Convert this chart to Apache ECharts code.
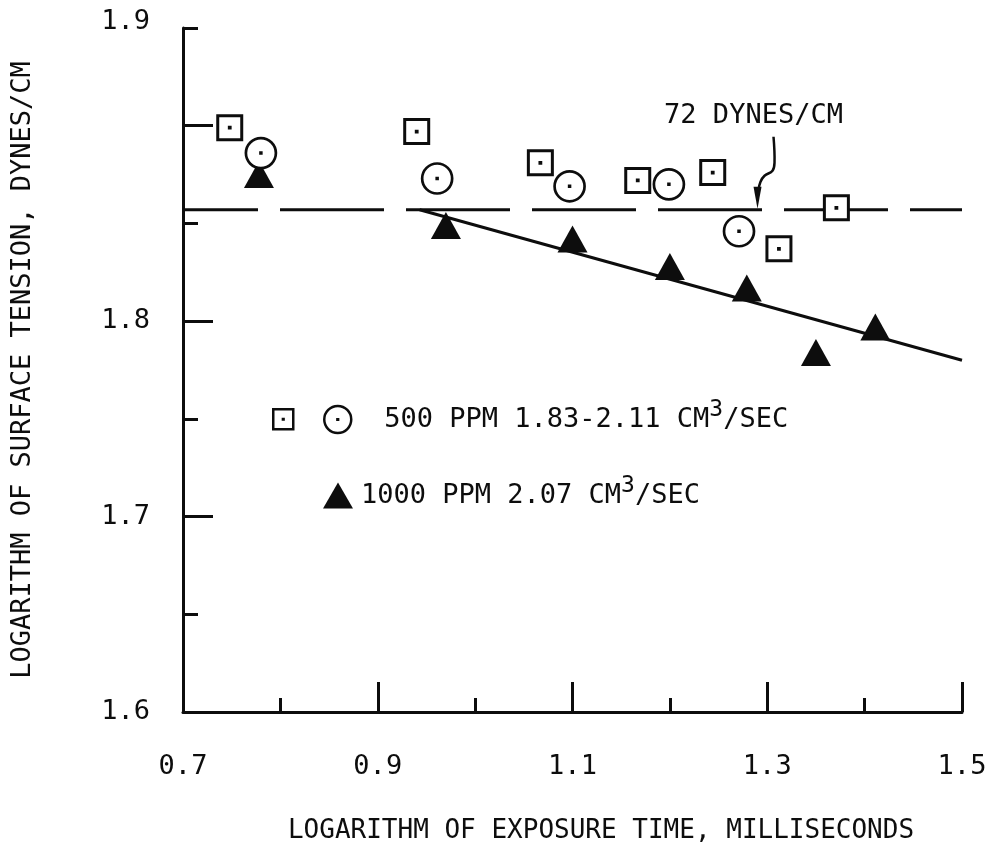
<!DOCTYPE html>
<html>
<head>
<meta charset="utf-8">
<script src="https://cdn.jsdelivr.net/npm/echarts@6/dist/echarts.min.js"></script>
<style>html,body{margin:0;padding:0;background:#fff}#c{width:995px;height:850px}</style>
</head>
<body>
<div id="c"></div>
<script>
// ---- data ----
const squaresX = [0.748, 0.940, 1.067, 1.167, 1.244, 1.312, 1.371];
const squaresY = [1.899, 1.897, 1.881, 1.872, 1.876, 1.837, 1.858];
const circlesX = [0.780, 0.961, 1.097, 1.199, 1.271];
const circlesY = [1.886, 1.873, 1.869, 1.870, 1.846];
const trianglesX = [0.778, 0.970, 1.100, 1.200, 1.279, 1.350, 1.411];
const trianglesY = [1.875, 1.849, 1.842, 1.828, 1.817, 1.784, 1.797];
const fitLineX = [0.943, 1.5];
const fitLineY = [1.857, 1.780];
const refLineX = [0.7, 1.5];
const refLineY = [1.857, 1.857];
const refLabel = '72 DYNES/CM';
const refArrowAt = [1.29, 1.857];
const xMajorTicks = [0.7, 0.9, 1.1, 1.3, 1.5];
const xMinorTicks = [0.8, 1.0, 1.2, 1.4];
const xTickLabels = ['0.7', '0.9', '1.1', '1.3', '1.5'];
const yMajorTicks = [1.6, 1.7, 1.8, 1.9];
const yMinorTicks = [1.65, 1.75, 1.85, 1.95];
const yLabelValues = [1.6, 1.7, 1.8, 1.95];
const yTickLabels = ['1.6', '1.7', '1.8', '1.9'];
const seriesNames = ['500 PPM (square)', '500 PPM (circle)', '1000 PPM'];
const legendLabels = ['500 PPM 1.83-2.11 CM³/SEC', '1000 PPM 2.07 CM³/SEC'];
const xTitle = 'LOGARITHM OF EXPOSURE TIME, MILLISECONDS';
const yTitle = 'LOGARITHM OF SURFACE TENSION, DYNES/CM';

// ---- helpers / styles ----
const FONT = 'DejaVu Sans Mono';
const INK = '#0d0d0d';
const FS = 27;
const pairs = (xs, ys) => xs.map((x, i) => [x, ys[i]]);
const lookup = (vals, labels, v) => {
  const i = vals.findIndex(t => Math.abs(t - v) < 1e-9);
  return i < 0 ? '' : labels[i];
};
const supText = s => s.replace('³', '{sup|3}');
const SQ_PATH = 'path://M0 0H24V24H0Z M11.6 11.6H12.4V12.4H11.6Z';
const CI_PATH = 'path://M15 0A15 15 0 1 1 15 30A15 15 0 1 1 15 0Z M14.6 14.6H15.4V15.4H14.6Z';
const txt = {fontFamily: FONT, fontSize: FS, color: INK};
const richSup = {sup: {fontFamily: FONT, fontSize: 23, color: INK, padding: [0, 0, 18, 0]}};
const tickLine = {color: INK, width: 3};

const chart = echarts.init(document.getElementById('c'), null, {renderer: 'canvas'});
chart.setOption({
  animation: false,
  backgroundColor: '#fff',
  grid: {left: 183, top: 28, right: 33, bottom: 138, containLabel: false, outerBoundsMode: 'none'},
  xAxis: [
    {
      type: 'value', min: 0.7, max: 1.5, position: 'bottom',
      axisLine: {show: true, onZero: false, lineStyle: tickLine},
      axisTick: {show: true, inside: true, length: 14, customValues: xMinorTicks, lineStyle: tickLine},
      axisLabel: {show: false},
      splitLine: {show: false},
      name: xTitle, nameLocation: 'middle', nameGap: 106,
      nameTextStyle: {fontFamily: FONT, fontSize: 26, color: INK, padding: [0, 0, 0, 57]}
    },
    {
      type: 'value', min: 0.7, max: 1.5, position: 'bottom',
      axisLine: {show: false, onZero: false},
      axisTick: {show: true, inside: true, length: 30, customValues: xMajorTicks, lineStyle: tickLine},
      axisLabel: Object.assign({show: true, margin: 41, customValues: xMajorTicks,
        formatter: v => lookup(xMajorTicks, xTickLabels, v)}, txt),
      splitLine: {show: false}
    }
  ],
  yAxis: [
    {
      type: 'value', min: 1.6, max: 1.95, position: 'left',
      axisLine: {show: true, onZero: false, lineStyle: tickLine},
      axisTick: {show: true, inside: true, length: 15, customValues: yMinorTicks, lineStyle: tickLine},
      axisLabel: Object.assign({show: true, margin: 33, customValues: yLabelValues,
        formatter: v => {
          const s = lookup(yLabelValues, yTickLabels, v);
          return Math.abs(v - yLabelValues[yLabelValues.length - 1]) < 1e-9 ? '{top|' + s + '}' : s;
        },
        rich: {top: {fontFamily: FONT, fontSize: FS, color: INK, padding: [0, 0, 12, 0]}}}, txt),
      splitLine: {show: false},
      name: yTitle, nameLocation: 'middle', nameGap: 147,
      nameTextStyle: Object.assign({}, txt)
    },
    {
      type: 'value', min: 1.6, max: 1.95, position: 'left',
      axisLine: {show: false, onZero: false},
      axisTick: {show: true, inside: true, length: 30, customValues: yMajorTicks, lineStyle: tickLine},
      axisLabel: {show: false},
      splitLine: {show: false}
    }
  ],
  legend: [
    {
      data: [seriesNames[0]], left: 272, top: 408, padding: 0, selectedMode: false,
      itemWidth: 20, itemHeight: 20, formatter: () => '',
      itemStyle: {borderWidth: 2.5, opacity: 1}, textStyle: {fontSize: 4}
    },
    {
      data: [seriesNames[1]], left: 323, top: 399, padding: 0, selectedMode: false,
      itemWidth: 27, itemHeight: 27, formatter: () => supText(legendLabels[0]),
      itemStyle: {borderWidth: 2.5, opacity: 1},
      textStyle: Object.assign({rich: richSup, padding: [0, 0, 0, 28]}, txt)
    },
    {
      data: [seriesNames[2]], left: 323, top: 475, padding: 0, selectedMode: false,
      itemWidth: 30, itemHeight: 26, formatter: () => supText(legendLabels[1]),
      itemStyle: {opacity: 1},
      textStyle: Object.assign({rich: richSup, padding: [0, 0, 0, 3]}, txt)
    }
  ],
  series: [
    {
      type: 'line', name: 'ref', data: pairs(refLineX, refLineY), symbol: 'none', silent: true, z: 1,
      lineStyle: {color: INK, width: 3, type: [104, 22], dashOffset: 29}
    },
    {
      type: 'line', name: 'fit', data: pairs(fitLineX, fitLineY), symbol: 'none', silent: true, z: 1,
      lineStyle: {color: INK, width: 3}
    },
    {
      type: 'scatter', name: seriesNames[2], data: pairs(trianglesX, trianglesY), z: 2,
      symbol: 'triangle', symbolSize: [30, 27], itemStyle: {color: INK, opacity: 1}
    },
    {
      type: 'scatter', name: seriesNames[0], data: pairs(squaresX, squaresY), z: 3,
      symbol: SQ_PATH, symbolSize: 24, itemStyle: {color: '#fff', borderColor: INK, borderWidth: 3, opacity: 1}
    },
    {
      type: 'scatter', name: seriesNames[1], data: pairs(circlesX, circlesY), z: 3,
      symbol: CI_PATH, symbolSize: 30, itemStyle: {color: '#fff', borderColor: INK, borderWidth: 2.7, opacity: 1}
    }
  ]
});

// annotation arrow pointing to the 72 dynes/cm line
const tip = chart.convertToPixel({xAxisIndex: 0, yAxisIndex: 0}, refArrowAt);
chart.setOption({
  graphic: [{
    type: 'group', x: tip[0], y: tip[1] - 1, silent: true,
    children: [
      {type: 'text', x: -4, y: -93,
       style: {text: refLabel, font: FS + 'px "' + FONT + '"', fill: INK, align: 'center', verticalAlign: 'middle'}},
      {type: 'polyline', shape: {points: [[16, -72], [17, -46], [15, -38], [7, -33], [3, -27], [1, -19]], smooth: 0.4},
       style: {stroke: INK, lineWidth: 2.5, fill: null}},
      {type: 'polygon', shape: {points: [[-4, -22], [4, -22], [0, 0]]}, style: {fill: INK}}
    ]
  }]
});
</script>
</body>
</html>
